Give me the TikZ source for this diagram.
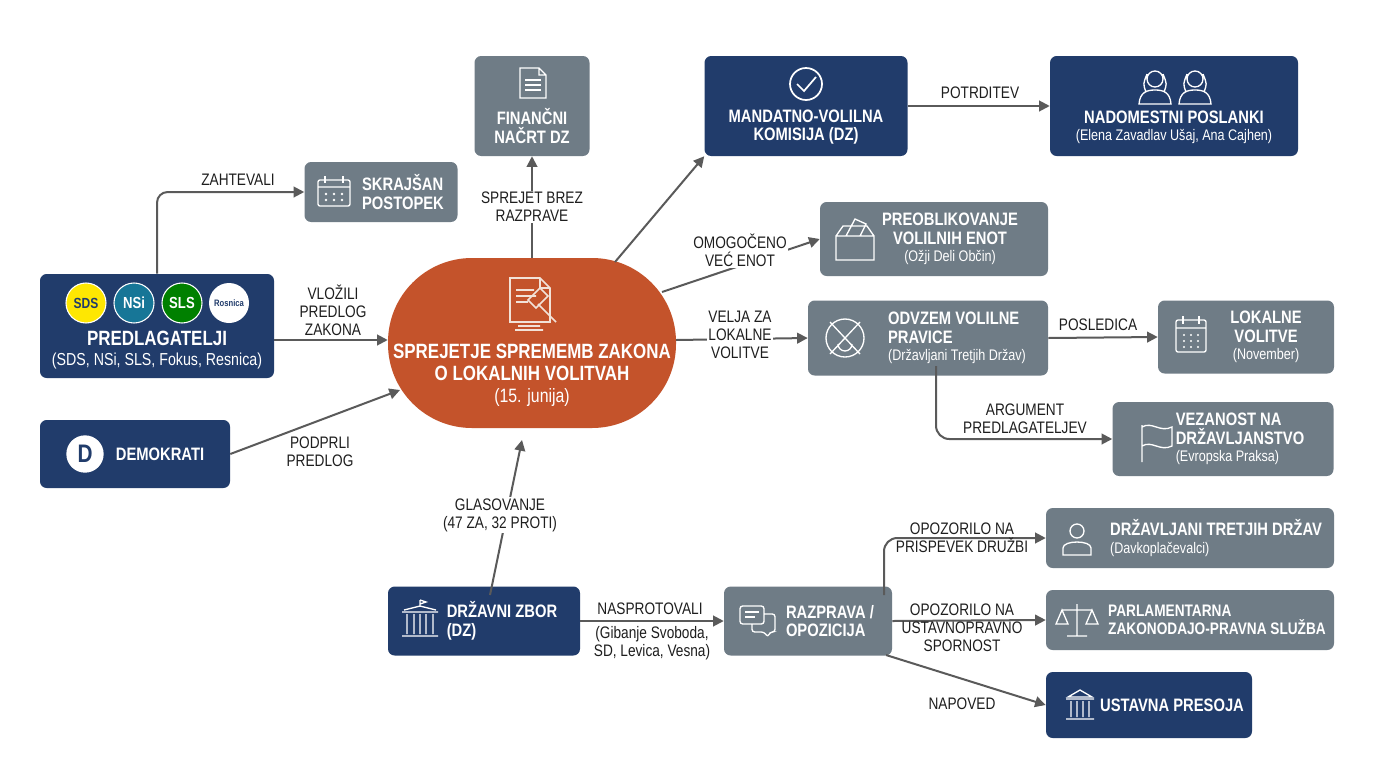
\documentclass[tikz,border=0pt]{standalone}
\usepackage{fontspec}
\setmainfont{Liberation Sans}[FakeStretch=0.82]
\usetikzlibrary{arrows.meta,calc}
\definecolor{navy}{HTML}{213C6B}
\definecolor{gbox}{HTML}{6F7C86}
\definecolor{orng}{HTML}{C4532B}
\definecolor{arr}{HTML}{5A5A5A}
\definecolor{lbl}{HTML}{1E1E1E}
\definecolor{ico}{HTML}{F2E2D8}
\newcommand\subt{\mdseries\fontsize{11.5}{12.5}\selectfont}
\begin{document}
\begin{tikzpicture}[x=0.75pt,y=-0.75pt,
  box/.style={rounded corners=5pt,draw=none,inner sep=0pt},
  nb/.style={box,fill=navy},
  gb/.style={box,fill=gbox},
  tt/.style={text=white,align=center,font=\bfseries\fontsize{13.5}{14}\selectfont},
  tl/.style={text=white,align=left,font=\bfseries\fontsize{13.5}{14}\selectfont},
  lab/.style={text=lbl,align=center,font=\fontsize{12.5}{13.5}\selectfont,inner sep=1pt},
  con/.style={draw=arr,line width=1.5pt,-{Triangle[length=8pt,width=8pt]}},
  ic/.style={draw=white,line width=1pt}]
\useasboundingbox (0,0) rectangle (1376,768);
\fill[white] (0,0) rectangle (1376,768);

% boxes
\node[gb,minimum width=86.25pt,minimum height=75pt] (fin) at (532,106) {};
\node[gb,minimum width=114.75pt,minimum height=45pt] (skr) at (381,192) {};
\node[nb,minimum width=152.25pt,minimum height=75pt] (mvk) at (806,106) {};
\node[nb,minimum width=186pt,minimum height=75pt] (nad) at (1174,106) {};
\node[gb,minimum width=171pt,minimum height=55.5pt] (pre) at (934,239) {};
\node[gb,minimum width=180pt,minimum height=56.25pt] (odv) at (928,338) {};
\node[gb,minimum width=132pt,minimum height=54.75pt] (lok) at (1246,337) {};
\node[gb,minimum width=165.75pt,minimum height=55.5pt] (vez) at (1223,439) {};
\node[nb,minimum width=175.5pt,minimum height=78pt] (prd) at (157,326) {};
\node[nb,minimum width=142.5pt,minimum height=51pt] (dem) at (135,454) {};
\node[fill=orng,draw=none,rounded corners=63pt,minimum width=216pt,minimum height=127.5pt] (cen) at (532,343) {};
\node[nb,minimum width=144pt,minimum height=51.75pt] (dz) at (484,621) {};
\node[gb,minimum width=126pt,minimum height=51.75pt] (raz) at (808,621) {};
\node[gb,minimum width=216pt,minimum height=45pt] (drz) at (1190,538) {};
\node[gb,minimum width=216pt,minimum height=45pt] (par) at (1190,620) {};
\node[nb,minimum width=154.5pt,minimum height=49.5pt] (ust) at (1149,705) {};

% texts
\node[tt] (tfin) at (532,126) {FINANČNI\\NAČRT DZ};
\node[tl] (tskr) at (403,192) {SKRAJŠAN\\POSTOPEK};
\node[tt] (tmvk) at (806,127) {MANDATNO-VOLILNA\\KOMISIJA (DZ)};
\node[tt] (tnad) at (1174,127) {NADOMESTNI POSLANKI\\[-1pt]{\subt (Elena Zavadlav Ušaj, Ana Cajhen)}};
\node[tt] (tpre) at (950,239) {PREOBLIKOVANJE\\VOLILNIH ENOT\\[-1pt]{\subt (Ožji Deli Občin)}};
\node[tl] (todv) at (957,338) {ODVZEM VOLILNE\\PRAVICE\\[-1pt]{\subt (Državljani Tretjih Držav)}};
\node[tt] (tlok) at (1266,337) {LOKALNE\\VOLITVE\\[-1pt]{\subt (November)}};
\node[tl] (tvez) at (1240,439) {VEZANOST NA\\DRŽAVLJANSTVO\\[-1pt]{\subt (Evropska Praksa)}};
\node[tt,font=\bfseries\fontsize{15.5}{16.5}\selectfont] (tprd) at (157,350) {PREDLAGATELJI\\[-1pt]{\mdseries\fontsize{13}{14}\selectfont (SDS, NSi, SLS, Fokus, Resnica)}};
\node[tl] (tdem) at (160,454) {DEMOKRATI};
\node[tt,font=\bfseries\fontsize{15.5}{17}\selectfont] (tcen) at (532,375) {SPREJETJE SPREMEMB ZAKONA\\O LOKALNIH VOLITVAH\\[-1pt]{\mdseries\fontsize{14.5}{16}\selectfont (15. junija)}};
\node[tl] (tdz) at (502,621) {DRŽAVNI ZBOR\\(DZ)};
\node[tl] (traz) at (830,621) {RAZPRAVA /\\OPOZICIJA};
\node[tl] (tdrz) at (1216,538) {DRŽAVLJANI TRETJIH DRŽAV\\[-1pt]{\subt (Davkoplačevalci)}};
\node[tl,font=\bfseries\fontsize{12.5}{13.5}\selectfont] (tpar) at (1217,620) {PARLAMENTARNA\\ZAKONODAJO-PRAVNA SLUŽBA};
\node[tl] (tust) at (1172,705) {USTAVNA PRESOJA};

% party logos
\node[circle,fill=yellow!90!orange,draw=white,line width=0.8pt,minimum size=30pt,inner sep=0pt,font=\bfseries\fontsize{11}{11}\selectfont,text=navy] (sds) at (86,303) {SDS};
\node[circle,fill=navy!70!cyan,draw=white,line width=0.8pt,minimum size=30pt,inner sep=0pt,font=\bfseries\fontsize{12}{12}\selectfont,text=white] (nsi) at (134,303) {NSi};
\node[circle,fill=green!50!black,draw=white,line width=0.8pt,minimum size=30pt,inner sep=0pt,font=\bfseries\fontsize{12}{12}\selectfont,text=white] (sls) at (182,303) {SLS};
\node[circle,fill=white,minimum size=30pt,inner sep=0pt,font=\bfseries\fontsize{7}{7}\selectfont,text=navy] (res) at (229,303) {Rosnica};
\node[circle,fill=white,minimum size=28pt,inner sep=0pt,font=\bfseries\fontsize{19}{19}\selectfont,text=navy] (dlogo) at (85,454) {D};

% icons
\draw[ic] (520,68)--(539,68)--(546,75)--(546,98)--(520,98)--cycle (539,68)--(539,75)--(546,75);
\draw[ic] (525,80)--(541,80) (525,85)--(541,85) (525,90)--(541,90);
\draw[ic,rounded corners=1.5pt] (318,180) rectangle (350,206) (318,187)--(350,187);
\draw[ic] (325,176)--(325,183) (343,176)--(343,183);
\foreach \xx in {326,334,342}{\foreach \yy in {194,200}{\fill[white] (\xx,\yy) circle (1.3);}}
\draw[ic,line width=1.3pt] (806,84) circle (16) (797,84)--(804,91)--(816,77);
\foreach \cx in {1155,1195}{\draw[ic] (\cx,79) circle (8) (\cx-16,104) .. controls (\cx-15,92) and (\cx-8,90) .. (\cx,90) .. controls (\cx+8,90) and (\cx+15,92) .. (\cx+16,104) -- cycle (\cx-8,74)..controls (\cx-12,84) ..(\cx-9,92) (\cx+8,74)..controls(\cx+12,84)..(\cx+9,92);}
\draw[ic] (836,236) rectangle (874,260) (836,236)--(843,226)--(867,226)--(874,236) (846,236)--(855,219)--(866,224)--(860,236);
\draw[ic] (845,338) circle (19) (830,322)--(860,354) (860,322)--(830,354) (838,344) arc (180:0:7);
\draw[ic] (1142,425)--(1142,462) (1142,427) .. controls (1152,421) and (1160,433) .. (1172,427) -- (1172,446) .. controls (1160,452) and (1152,440) .. (1142,446);
\draw[ic,rounded corners=1.5pt] (1176,320) rectangle (1206,352) (1176,328)--(1206,328);
\draw[ic] (1183,316)--(1183,324) (1199,316)--(1199,324);
\foreach \xx in {1184,1191,1198}{\foreach \yy in {335,341,347}{\fill[white] (\xx,\yy) circle (1.2);}}
\draw[ic] (1077,531) circle (7) (1063,555) -- (1063,548) .. controls (1063,540) and (1091,540) .. (1091,548) -- (1091,555) -- cycle;
\draw[ic] (1077,604)--(1077,636) (1067,636)--(1087,636) (1062,610)--(1092,610) (1062,610)--(1056,624)--(1068,624)--cycle (1092,610)--(1086,624)--(1098,624)--cycle;
\draw[ic] (1068,697)--(1080,690)--(1092,697)--cycle (1066,699)--(1094,699) (1066,719)--(1094,719) (1071,701)--(1071,717) (1077,701)--(1077,717) (1083,701)--(1083,717) (1089,701)--(1089,717);
\draw[ic] (420,600)--(420,606) (420,600)--(426,602)--(420,604) (404,610)--(420,606)--(436,610) (402,612)--(438,612) (402,636)--(438,636) (407,614)--(407,634) (414,614)--(414,634) (420,614)--(420,634) (426,614)--(426,634) (433,614)--(433,634);
\draw[ic,rounded corners=2pt] (740,606) rectangle (764,624) (764,614)--(775,614)--(775,632)--(770,632)--(768,637)--(764,632)--(752,632)--(752,624);
\draw[ic] (745,612)--(759,612) (745,617)--(755,617);
\draw[draw=ico,line width=1.2pt] (510,278)--(540,278)--(550,288)--(550,322)--(510,322)--cycle (540,278)--(540,288)--(550,288) (516,290)--(534,290) (516,296)--(536,296) (516,302)--(528,302);
\draw[draw=ico,line width=1.2pt] (528,300)--(540,288)--(548,296)--(536,308)--cycle (538,304)--(556,322) (518,326)--(540,326) (515,330)--(543,330);

% connectors
\draw[con,rounded corners=8pt] (prd.north) |- (skr.west);
\node[lab] (lzah) at (238,180) {ZAHTEVALI};
\draw[con] (prd.east |- 0,340) coordinate (p1) -- (p1 -| cen.west);
\node[lab] (lvlo) at (333,310) {VLOŽILI\\PREDLOG\\ZAKONA};
\draw[con] (dem.east) -- (400,390) coordinate (c1);
\node[lab] (lpod) at (320,452) {PODPRLI\\PREDLOG};
\draw[con] (cen.north) -- (fin.south);
\node[lab,fill=white] (lspr) at (532,207) {SPREJET BREZ\\RAZPRAVE};
\draw[con] (615,262) coordinate (c2) -- (mvk.south west);
\draw[con] (mvk.east) -- (nad.west);
\node[lab] (lpot) at (980,93) {POTRDITEV};
\draw[con] (662,292) coordinate (c3) -- (pre.west);
\node[lab,fill=white] (lomo) at (740,250) {OMOGOČENO\\VEĆ ENOT};
\draw[con] (676,340) coordinate (c4) -- (odv.west);
\node[lab,fill=white] (lvel) at (740,335) {VELJA ZA\\LOKALNE\\VOLITVE};
\draw[con] (odv.east) -- (lok.west);
\node[lab] (lpos) at (1098,325) {POSLEDICA};
\draw[con,rounded corners=10pt] (936,366) coordinate (c5) |- (vez.west);
\node[lab] (larg) at (1025,419) {ARGUMENT\\PREDLAGATELJEV};
\draw[con] (490,595) coordinate (c6) -- (522,440);
\node[lab,fill=white] (lgla) at (500,515) {GLASOVANJE\\(47 ZA, 32 PROTI)};
\draw[con] (dz.east) -- (raz.west);
\node[lab] (lnas) at (650,609) {NASPROTOVALI};
\node[lab] (lgib) at (652,643) {(Gibanje Svoboda,\\SD, Levica, Vesna)};
\draw[con,rounded corners=10pt] (884,595) coordinate (c7) |- (drz.west);
\node[lab] (lop1) at (962,538) {OPOZORILO NA\\PRISPEVEK DRUŽBI};
\draw[con] (raz.east) -- (par.west);
\node[lab] (lop2) at (962,628) {OPOZORILO NA\\USTAVNOPRAVNO\\SPORNOST};
\draw[con] (886,655) coordinate (c8) -- (ust.west);
\node[lab] (lnap) at (962,704) {NAPOVED};
\end{tikzpicture}
\end{document}
